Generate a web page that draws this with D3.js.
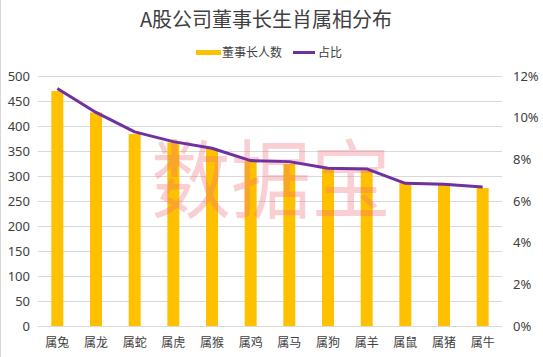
<!DOCTYPE html>
<html><head><meta charset="utf-8">
<script src="https://cdn.jsdelivr.net/npm/d3@7/dist/d3.min.js"></script>
<style>body{margin:0;background:#fff}svg{display:block}text{font-family:"Noto Sans CJK SC","Noto Sans",sans-serif}</style>
</head><body><svg id="c" width="543" height="357"></svg>
<script>
const categories = ["属兔","属龙","属蛇","属虎","属猴","属鸡","属马","属狗","属羊","属鼠","属猪","属牛"];
const counts = [470,427,384,367,354,330,324,316,310,286,282,276];
const shares = [11.4,10.25,9.32,8.85,8.53,7.94,7.89,7.57,7.54,6.85,6.80,6.67];
const leftTicks = [0,50,100,150,200,250,300,350,400,450,500];
const rightTicks = [0,2,4,6,8,10,12];

const svg = d3.select("#c");
const m = {l:38, r:502, t:76, b:326};
const x = d3.scaleBand().domain(categories).range([m.l, m.r]).paddingInner(0.69).paddingOuter(0.345);
const y = d3.scaleLinear().domain([0,500]).range([m.b, m.t]);
const y2 = d3.scaleLinear().domain([0,12]).range([m.b, m.t]);

svg.append("line").attr("x1",0.5).attr("x2",0.5).attr("y1",0).attr("y2",357).attr("stroke","#d9d9d9");

// gridlines
svg.append("g").selectAll("line").data(leftTicks).join("line")
  .attr("x1",m.l).attr("x2",m.r).attr("y1",d=>Math.round(y(d))+0.5).attr("y2",d=>Math.round(y(d))+0.5)
  .attr("stroke","#d9d9d9").attr("stroke-width",1);

// left axis
const la = svg.append("g").attr("transform",`translate(${m.l},0)`)
  .call(d3.axisLeft(y).tickValues(leftTicks).tickSize(0).tickPadding(8));
la.select(".domain").remove();
la.selectAll("text").attr("font-size",13).attr("fill","#404040").style("font-family","'Noto Sans','DejaVu Sans',sans-serif");

// right axis
const ra = svg.append("g").attr("transform",`translate(${m.r},0)`)
  .call(d3.axisRight(y2).tickValues(rightTicks).tickSize(0).tickPadding(11).tickFormat(d=>d+"%"));
ra.select(".domain").remove();
ra.selectAll("text").attr("font-size",13).attr("fill","#404040").style("font-family","'Noto Sans','DejaVu Sans',sans-serif");

// bars
svg.append("g").selectAll("rect").data(counts).join("rect")
  .attr("x",(d,i)=>x(categories[i])).attr("width",x.bandwidth())
  .attr("y",d=>y(d)).attr("height",d=>m.b-y(d)).attr("fill","#FFC000");

// watermark
svg.append("text").attr("transform","translate(271,212) scale(1,1.08)").attr("text-anchor","middle")
  .attr("font-size",80).attr("fill","#ee7080").attr("opacity",0.33).text("数据宝");

// line
const line = d3.line().x((d,i)=>x(categories[i])+x.bandwidth()/2).y(d=>y2(d));
svg.append("path").datum(shares).attr("d",line).attr("fill","none")
  .attr("stroke","#7030A0").attr("stroke-width",3).attr("stroke-linejoin","round");

// x labels
const xa = svg.append("g").attr("transform",`translate(0,${m.b})`)
  .call(d3.axisBottom(x).tickSize(0).tickPadding(12));
xa.select(".domain").remove();
xa.selectAll("text").attr("font-size",12).attr("fill","#404040");

// title
svg.append("text").attr("x",266).attr("y",27).attr("text-anchor","middle")
  .attr("font-size",20).attr("fill","#404040").text("A股公司董事长生肖属相分布");

// legend
const lg = svg.append("g");
lg.append("rect").attr("x",196).attr("y",50).attr("width",25).attr("height",5).attr("fill","#FFC000");
lg.append("text").attr("x",222).attr("y",57).attr("font-size",12).attr("fill","#404040").text("董事长人数");
lg.append("line").attr("x1",293).attr("x2",315).attr("y1",52.5).attr("y2",52.5).attr("stroke","#7030A0").attr("stroke-width",3);
lg.append("text").attr("x",318).attr("y",57).attr("font-size",12).attr("fill","#404040").text("占比");
</script></body></html>
